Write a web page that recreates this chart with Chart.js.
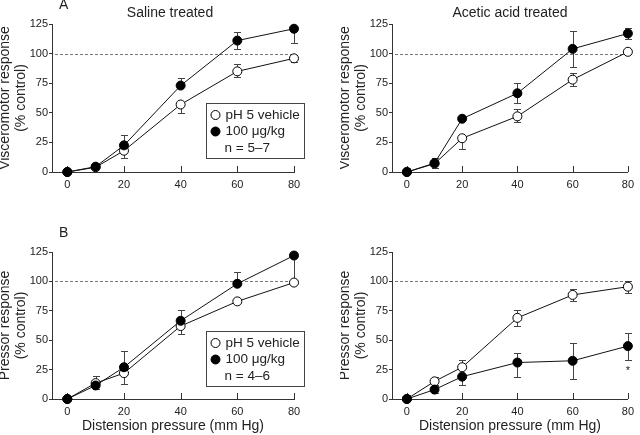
<!DOCTYPE html>
<html>
<head>
<meta charset="utf-8">
<script src="https://cdn.jsdelivr.net/npm/chart.js@4/dist/chart.umd.min.js"></script>
<style>
  body { margin: 0; background: #fff; }
  #wrap { position: relative; width: 640px; height: 435px; overflow: hidden; }
  canvas { position: absolute; }
</style>
</head>
<body>
<div id="wrap">
  <canvas id="vmSaline" width="320" height="210" style="left:0;top:0"></canvas>
  <canvas id="vmAcetic" width="300" height="210" style="left:340px;top:0"></canvas>
  <canvas id="prSaline" width="320" height="225" style="left:0;top:210px"></canvas>
  <canvas id="prAcetic" width="300" height="225" style="left:340px;top:210px"></canvas>
</div>
<script>
// distension pressures (mm Hg) and axis ticks
const pressures = [0, 10, 20, 40, 60, 80];
const xTicks = [0, 20, 40, 60, 80];
const yTicks = [0, 25, 50, 75, 100, 125];
const refLevel = 100;

// A, saline treated: visceromotor response (% control)
const vmSalineVehicle = [0, 4, 18, 57, 85, 96];
const vmSalineVehicleUp = [0, 0, 0, 0, 6.5, 3];
const vmSalineVehicleDown = [0, 0, 6, 7, 4.5, 3];
const vmSalineDrug = [0, 4.5, 22.5, 73, 111, 121];
const vmSalineDrugUp = [3, 0, 9, 6.5, 7.5, 0];
const vmSalineDrugDown = [0, 0, 0, 0, 7.5, 12];

// A, acetic acid treated
const vmAceticVehicle = [0, 7, 28.5, 47, 78, 101.5];
const vmAceticVehicleUp = [0, 0, 0, 6, 6, 0];
const vmAceticVehicleDown = [0, 0, 9, 5, 5, 0];
const vmAceticDrug = [0, 7.5, 45, 66.5, 104, 117];
const vmAceticDrugUp = [3, 4, 0, 8.5, 15, 4.5];
const vmAceticDrugDown = [0, 4, 0, 8.5, 15, 4.5];

// B, saline treated: pressor response (% control)
const prSalineVehicle = [0, 13.5, 22, 62, 83, 99];
const prSalineVehicleUp = [0, 6, 0, 0, 0, 0];
const prSalineVehicleDown = [0, 0, 9, 7, 0, 0];
const prSalineDrug = [0, 11.5, 27, 66.5, 98, 122];
const prSalineDrugUp = [3, 0, 13.5, 9.5, 10, 0];
const prSalineDrugDown = [0, 3, 0, 0, 0, 21];

// B, acetic acid treated
const prAceticVehicle = [0, 15, 27, 69, 88.5, 95.5];
const prAceticVehicleUp = [0, 3.5, 6, 6.5, 5, 5];
const prAceticVehicleDown = [0, 3.5, 0, 6.5, 5, 5];
const prAceticDrug = [0, 8, 19, 31, 32.5, 45];
const prAceticDrugUp = [3, 3, 0, 8, 15.5, 11];
const prAceticDrugDown = [0, 3, 7, 12.5, 15.5, 11.5];

const FONT = '"Liberation Sans", Arial, Helvetica, sans-serif';
const INK = '#222';

function decorations(cfg) {
  return {
    id: 'decor',
    beforeDatasetsDraw(chart) {
      const { ctx, chartArea, scales: { x, y } } = chart;
      ctx.save();
      // dashed 100% line
      const yRef = Math.round(y.getPixelForValue(refLevel)) + 0.5;
      ctx.strokeStyle = '#777';
      ctx.lineWidth = 1;
      ctx.setLineDash([3, 2]);
      ctx.beginPath();
      ctx.moveTo(chartArea.left + 3, yRef);
      ctx.lineTo(chartArea.right + 2, yRef);
      ctx.stroke();
      ctx.setLineDash([]);

      // x ticks point inwards
      ctx.strokeStyle = '#333';
      ctx.beginPath();
      xTicks.forEach(v => {
        const px = Math.round(x.getPixelForValue(v)) + 0.5;
        ctx.moveTo(px, chartArea.bottom);
        ctx.lineTo(px, chartArea.bottom - 6);
      });
      ctx.stroke();

      // error bars
      ctx.strokeStyle = '#444';
      chart.data.datasets.forEach(ds => {
        ds.data.forEach((pt, i) => {
          const px = Math.round(x.getPixelForValue(pt.x)) + 0.5;
          [[ds.errUp[i], 1], [ds.errDown[i], -1]].forEach(([e, dir]) => {
            if (!e) return;
            const y0 = y.getPixelForValue(pt.y);
            const y1 = Math.round(y.getPixelForValue(pt.y + dir * e)) + 0.5;
            ctx.beginPath();
            ctx.moveTo(px, y0);
            ctx.lineTo(px, y1);
            ctx.moveTo(px - 3.5, y1);
            ctx.lineTo(px + 3.5, y1);
            ctx.stroke();
          });
        });
      });
      ctx.restore();
    },
    afterDraw(chart) {
      const { ctx, chartArea, scales: { x, y } } = chart;
      ctx.save();
      ctx.fillStyle = INK;
      ctx.font = '14px ' + FONT;
      ctx.textBaseline = 'alphabetic';
      if (cfg.heading) {
        ctx.textAlign = 'center';
        ctx.fillText(cfg.heading, chartArea.left + 118, 16.5);
      }
      if (cfg.letter) {
        ctx.textAlign = 'left';
        ctx.fillText(cfg.letter, 59, cfg.letterY);
      }
      if (cfg.n) {
        const bx = Math.round(chartArea.left + 154) + 0.5;
        const by = Math.round(chartArea.top + 79) + 0.5;
        ctx.strokeStyle = '#444';
        ctx.lineWidth = 1;
        ctx.strokeRect(bx, by, 98, 55);
        ctx.font = '13.5px ' + FONT;
        ctx.textBaseline = 'middle';
        const entries = chart.data.datasets.slice().reverse();
        entries.forEach((ds, i) => {
          const cy = by + 11.5 + 16.5 * i;
          ctx.beginPath();
          ctx.arc(bx + 9, cy, 4.5, 0, Math.PI * 2);
          ctx.fillStyle = ds.pointBackgroundColor;
          ctx.fill();
          ctx.strokeStyle = '#000';
          ctx.stroke();
          ctx.fillStyle = INK;
          ctx.fillText(ds.label, bx + 19, cy);
        });
        ctx.fillText(cfg.n, bx + 18, by + 11.5 + 33);
      }
      if (cfg.star) {
        const ds = chart.data.datasets[0];
        const last = ds.data.length - 1;
        const sy = y.getPixelForValue(ds.data[last].y - ds.errDown[last]) + 11;
        ctx.font = '11px ' + FONT;
        ctx.textAlign = 'center';
        ctx.textBaseline = 'middle';
        ctx.fillText('*', x.getPixelForValue(pressures[last]), sy);
      }
      ctx.restore();
    }
  };
}

function makePanel(id, cfg) {
  const tickFont = { family: FONT, size: 11 };
  const series = [
    { label: '100 \u03bcg/kg', values: cfg.drug, up: cfg.drugUp, down: cfg.drugDown, fill: '#000' },
    { label: 'pH 5 vehicle', values: cfg.vehicle, up: cfg.vehicleUp, down: cfg.vehicleDown, fill: '#fff' }
  ];
  const datasets = series.map(s => ({
    label: s.label,
    data: pressures.map((p, i) => ({ x: p, y: s.values[i] })),
    errUp: s.up,
    errDown: s.down,
    borderColor: '#111',
    borderWidth: 1,
    pointRadius: 4.5,
    pointBackgroundColor: s.fill,
    pointBorderColor: '#000',
    pointBorderWidth: 1,
    tension: 0,
    clip: false
  }));

  new Chart(document.getElementById(id), {
    type: 'line',
    data: { datasets },
    options: {
      responsive: false,
      animation: false,
      events: [],
      layout: { padding: { top: cfg.top, right: cfg.right, bottom: 0, left: 0 } },
      plugins: { legend: { display: false }, tooltip: { enabled: false } },
      scales: {
        x: {
          type: 'linear',
          min: -5.4,
          max: 80,
          afterBuildTicks: s => { s.ticks = xTicks.map(v => ({ value: v })); },
          afterFit: s => { s.height = cfg.xHeight; },
          ticks: { font: tickFont, color: INK, padding: 6, maxRotation: 0, autoSkip: false },
          grid: { drawOnChartArea: false, drawTicks: false },
          border: { color: '#333' },
          title: {
            display: !!cfg.xTitle,
            text: 'Distension pressure (mm Hg)',
            font: { family: FONT, size: 14, lineHeight: 1.15 },
            color: INK,
            padding: { top: 0, bottom: 0.5 }
          }
        },
        y: {
          type: 'linear',
          min: 0,
          max: 125,
          afterBuildTicks: s => { s.ticks = yTicks.map(v => ({ value: v })); },
          afterFit: s => { s.width = 52; },
          ticks: { font: tickFont, color: INK, padding: 1 },
          grid: { drawOnChartArea: false, tickLength: 3, color: '#333' },
          border: { color: '#333' },
          title: {
            display: true,
            text: [cfg.yTitle, '(% control)'],
            font: { family: FONT, size: 14, lineHeight: 1.15 },
            color: INK,
            padding: { top: -3, bottom: 0 }
          }
        }
      }
    },
    plugins: [decorations(cfg)]
  });
}

makePanel('vmSaline', {
  vehicle: vmSalineVehicle, vehicleUp: vmSalineVehicleUp, vehicleDown: vmSalineVehicleDown,
  drug: vmSalineDrug, drugUp: vmSalineDrugUp, drugDown: vmSalineDrugDown,
  yTitle: 'Visceromotor response', heading: 'Saline treated', letter: 'A', letterY: 8.5,
  n: 'n = 5\u20137', top: 24, right: 26, xHeight: 38
});
makePanel('vmAcetic', {
  vehicle: vmAceticVehicle, vehicleUp: vmAceticVehicleUp, vehicleDown: vmAceticVehicleDown,
  drug: vmAceticDrug, drugUp: vmAceticDrugUp, drugDown: vmAceticDrugDown,
  yTitle: 'Visceromotor response', heading: 'Acetic acid treated',
  top: 24, right: 6, xHeight: 38
});
makePanel('prSaline', {
  vehicle: prSalineVehicle, vehicleUp: prSalineVehicleUp, vehicleDown: prSalineVehicleDown,
  drug: prSalineDrug, drugUp: prSalineDrugUp, drugDown: prSalineDrugDown,
  yTitle: 'Pressor response', letter: 'B', letterY: 27,
  n: 'n = 4\u20136', top: 42, right: 26, xHeight: 36, xTitle: true
});
makePanel('prAcetic', {
  vehicle: prAceticVehicle, vehicleUp: prAceticVehicleUp, vehicleDown: prAceticVehicleDown,
  drug: prAceticDrug, drugUp: prAceticDrugUp, drugDown: prAceticDrugDown,
  yTitle: 'Pressor response', star: true,
  top: 42, right: 6, xHeight: 36, xTitle: true
});
</script>
</body>
</html>
